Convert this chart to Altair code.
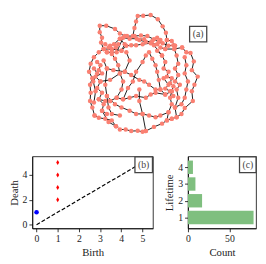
import altair as alt
import pandas as pd

# ---------------- data ----------------
# network (a): chains of nodes, coordinates
chains = [
    [(280,100),(285,75),(290,55),(295,38),(312,37),(335,35),(357,48),(372,70),(382,90),(385,112),(380,140)],
    [(255,100),(240,92),(225,78),(198,68),(178,68),(178,88),(185,105),(182,120),(190,140),(200,150)],
    [(210,130),(222,125),(240,108),(262,100),(285,100),(305,98),(325,100),(345,110),(360,118),(372,122),(390,130),(405,128),(410,130)],
    [(190,140),(215,140),(245,145),(260,130),(275,128),(290,128),(310,125),(335,122),(355,125),(365,135),(380,140),(408,140),(432,135)],
    [(200,150),(230,150),(250,105),(270,108),(292,108),(315,110),(345,128),(370,160)],
    [(432,135),(445,150),(458,152),(468,178),(462,205),(480,225),(470,250),(462,270),(465,300),(440,322),(430,340),(415,350),(400,355)],
    [(400,355),(385,360),(370,370),(345,380),(320,393),(310,395),(295,392),(275,393),(258,388),(240,388),(228,378),(215,360),(195,355),(175,352),(162,345)],
    [(162,345),(155,320),(148,300),(150,275),(148,250),(155,230),(145,210),(150,185),(160,165),(175,150),(190,140)],
    [(170,180),(180,190),(175,205),(185,215),(165,225),(180,240),(170,260),(185,275),(175,295),(190,310),(185,330),(200,340)],
    [(190,175),(200,200),(195,250),(200,285),(205,320),(215,340),(240,345)],
    [(215,155),(225,170),(235,190),(240,215),(250,240),(245,265),(230,290)],
    [(200,200),(220,205),(255,210),(275,220),(300,235),(315,240),(330,250),(350,265),(365,265)],
    [(320,160),(310,180),(290,210),(280,240),(265,260),(250,295)],
    [(355,145),(370,160),(380,180),(375,200),(390,210),(385,225),(400,230),(395,245),(405,255),(400,270),(395,290),(400,310),(390,335),(385,360)],
    [(408,140),(415,160),(420,185),(410,200),(420,220),(410,240),(425,250),(415,265),(420,290),(410,320),(415,350)],
    [(440,165),(445,190),(440,215),(450,240),(445,265),(440,290),(430,310),(410,320)],
    [(210,300),(230,290),(250,295),(270,290),(290,285),(320,290),(335,280),(350,275),(380,280),(400,270)],
    [(200,285),(225,310),(245,320),(270,330),(290,340),(310,340),(330,345),(350,350),(365,345),(390,335)],
    [(300,265),(300,300),(310,340),(320,393)],
    [(330,150),(340,170),(350,190),(355,210),(360,235),(365,265),(380,280)],
    [(260,150),(270,175),(255,210)],
    [(385,112),(400,115),(410,130)],
    [(240,108),(255,125),(245,145)],
    [(180,240),(210,235),(240,215)],
    [(175,295),(195,300),(210,300)],
    [(185,330),(205,365),(228,378)],
    [(195,125),(205,135),(215,148),(228,135),(235,125)],
    [(375,230),(390,250),(380,262),(395,270),(405,285)],
    [(160,200),(170,215),(158,240),(165,270),(160,305)],
    [(300,112),(320,118),(340,115),(355,105),(365,112)],
]

# persistence diagram (b)
birth_h0 = [0]
death_h0 = [1]
birth_h1 = [1, 1, 1, 1]
death_h1 = [2, 3, 4, 5]
diag = [0, 5]
birth_ticks = [0, 1, 2, 3, 4, 5]
death_ticks = [0, 2, 4]

# histogram (c)
lifetimes = [1, 2, 3, 4]
counts = [79, 17, 9, 6]
count_ticks = [0, 50]

FONT = "Liberation Serif"
TXT = "#222222"

# ---------------- (a) network ----------------
rows = []
for ci, ch in enumerate(chains):
    for oi, (x, y) in enumerate(ch):
        rows.append({"chain": ci, "o": oi, "x": x, "y": y})
net = pd.DataFrame(rows)

xs = alt.Scale(domain=[-30, 654])
ys = alt.Scale(domain=[24, 444], reverse=True)

edges = alt.Chart(net).mark_line(color="black", strokeWidth=0.9).encode(
    x=alt.X("x:Q", scale=xs, axis=None),
    y=alt.Y("y:Q", scale=ys, axis=None),
    detail="chain:N",
    order="o:Q",
)
nodes = alt.Chart(net).mark_circle(color="#FA8072", opacity=1, size=21).encode(
    x=alt.X("x:Q", scale=xs, axis=None),
    y=alt.Y("y:Q", scale=ys, axis=None),
)
abox = alt.Chart(pd.DataFrame({"k": [0]})).mark_rect(
    fill="white", stroke="#444444", strokeWidth=1.3
).encode(x=alt.value(161.7), x2=alt.value(179.3), y=alt.value(15.3), y2=alt.value(31.3))
atext = alt.Chart(pd.DataFrame({"t": ["(a)"]})).mark_text(
    font=FONT, fontSize=10, color="#444444", baseline="middle", align="center"
).encode(x=alt.value(170.5), y=alt.value(23.5), text="t:N")

top = alt.layer(edges, nodes, abox, atext).properties(
    width=228, height=140, view=alt.ViewBackground(strokeOpacity=0)
)

# ---------------- (b) persistence diagram ----------------
bx = alt.Scale(domain=[-0.2, 5.5], nice=False, zero=False)
by = alt.Scale(domain=[-0.3, 5.5], nice=False, zero=False)
xax = alt.Axis(values=birth_ticks, title="Birth", format="d")
yax = alt.Axis(values=death_ticks, title="Death", format="d")

dline = alt.Chart(pd.DataFrame({"b": diag, "d": diag})).mark_line(
    color="black", strokeDash=[4, 2], strokeWidth=1.2
).encode(x=alt.X("b:Q", scale=bx, axis=xax), y=alt.Y("d:Q", scale=by, axis=yax))
h0 = alt.Chart(pd.DataFrame({"b": birth_h0, "d": death_h0})).mark_point(
    filled=True, color="blue", size=22, opacity=1, shape="circle"
).encode(x=alt.X("b:Q", scale=bx, axis=xax), y=alt.Y("d:Q", scale=by, axis=yax))
h1 = alt.Chart(pd.DataFrame({"b": birth_h1, "d": death_h1})).mark_point(
    filled=True, color="red", size=26, opacity=1,
    shape="M0,-1L0.6,0L0,1L-0.6,0Z"
).encode(x=alt.X("b:Q", scale=bx, axis=xax), y=alt.Y("d:Q", scale=by, axis=yax))
bbox = alt.Chart(pd.DataFrame({"k": [0]})).mark_rect(
    fill="white", stroke="#444444", strokeWidth=1.3
).encode(x=alt.value(105.5), x2=alt.value(123.5), y=alt.value(0.6), y2=alt.value(16.7))
btext = alt.Chart(pd.DataFrame({"t": ["(b)"]})).mark_text(
    font=FONT, fontSize=10, color="#444444", baseline="middle", align="center"
).encode(x=alt.value(114.5), y=alt.value(8.7), text="t:N")

panel_b = alt.layer(dline, h0, h1, bbox, btext).properties(width=124, height=74)

# ---------------- (c) histogram ----------------
hdf = pd.DataFrame({"life": lifetimes, "count": counts})
hdf["lo"] = hdf["life"] - 0.4
hdf["hi"] = hdf["life"] + 0.4
cx = alt.Scale(domain=[0, 82], nice=False, zero=False)
cy = alt.Scale(domain=[0.35, 4.65], nice=False, zero=False)
bars = alt.Chart(hdf).mark_rect(color="#7FBF7F").encode(
    x=alt.X("count:Q", scale=cx, axis=alt.Axis(values=count_ticks, title="Count", format="d")),
    x2=alt.X2(datum=0),
    y=alt.Y("lo:Q", scale=cy, axis=alt.Axis(values=lifetimes, title="Lifetime", format="d")),
    y2="hi:Q",
)
cbox = alt.Chart(pd.DataFrame({"k": [0]})).mark_rect(
    fill="white", stroke="#444444", strokeWidth=1.3
).encode(x=alt.value(53), x2=alt.value(70), y=alt.value(0.6), y2=alt.value(16.7))
ctext = alt.Chart(pd.DataFrame({"t": ["(c)"]})).mark_text(
    font=FONT, fontSize=10, color="#444444", baseline="middle", align="center"
).encode(x=alt.value(61.5), y=alt.value(8.7), text="t:N")

panel_c = alt.layer(bars, cbox, ctext).properties(width=70, height=74)

bottom = alt.hconcat(panel_b, panel_c, spacing=36, bounds="flush")

chart = alt.vconcat(top, bottom, spacing=9, bounds="flush").properties(
    padding=0
).configure_view(
    stroke="black", strokeWidth=0.8
).configure_axis(
    grid=False,
    labelFont=FONT, labelFontSize=10, labelColor=TXT,
    titleFont=FONT, titleFontSize=11, titleFontWeight="normal", titleColor=TXT,
    domainColor="black", domainWidth=0.8, tickColor="black", tickSize=3.5,
    tickWidth=0.8, labelPadding=2, titlePadding=3,
    labelOverlap=False, labelBound=False, labelFlush=False,
)

chart.save("out.html", embed_options={"renderer": "svg", "actions": False})
